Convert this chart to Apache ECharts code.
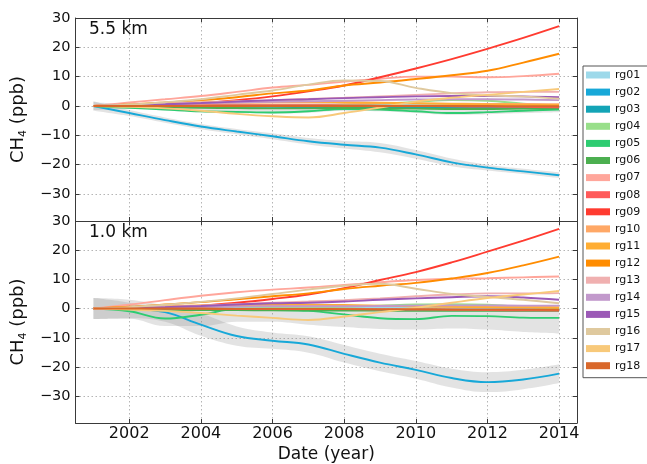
<!DOCTYPE html>
<html>
<head>
<meta charset="utf-8">
<script src="https://cdn.jsdelivr.net/npm/echarts@6/dist/echarts.min.js"></script>
<style>
  html, body { margin: 0; padding: 0; background: #fff; }
  #chart { width: 647px; height: 464px; }
</style>
</head>
<body>
<div id="chart"></div>
<script>
// Time axis (annual values), labels and colours
const years = [2001, 2002, 2003, 2004, 2005, 2006, 2007, 2008, 2009, 2010, 2011, 2012, 2013, 2014];
const xTicks = [2002, 2004, 2006, 2008, 2010, 2012, 2014];
const yTicks = [-30, -20, -10, 0, 10, 20, 30];
const regions = ['rg01', 'rg02', 'rg03', 'rg04', 'rg05', 'rg06', 'rg07', 'rg08', 'rg09',
                 'rg10', 'rg11', 'rg12', 'rg13', 'rg14', 'rg15', 'rg16', 'rg17', 'rg18'];
const regionColors = ['#9dd9ea', '#17a8d8', '#14a4b6', '#98df8a', '#2ecc71', '#4caf50',
                      '#ffa69b', '#ff5a5a', '#ff3b30', '#ffa866', '#ffad33', '#ff8c00',
                      '#f0b0b0', '#c299cc', '#9b59b6', '#dfc99e', '#f8c97a', '#d9682b'];

// CH4 anomaly (ppb) at 5.5 km
const hi_rg01 = [0, 0, 0.1, 0.2, 0.3, 0.3, 0.4, 0.5, 0.5, 0.5, 0.4, 0.4, 0.3, 0.3];
const hi_rg02 = [0, -2.4, -4.8, -7.0, -8.7, -10.3, -12.0, -13.2, -14.2, -16.5, -19.2, -21.0, -22.3, -23.6];
const hi_rg03 = [0, -0.1, -0.2, -0.3, -0.3, -0.3, -0.4, -0.5, -0.6, -0.6, -0.6, -0.5, -0.5, -0.4];
const hi_rg04 = [0, 0, 0.1, 0.2, 0.3, 0.3, 0.3, 0.4, 0.8, 1.4, 2.0, 1.8, 0.8, 0.2];
const hi_rg05 = [0, -0.6, -1.2, -1.8, -2.0, -2.2, -1.8, -1.0, -1.2, -1.8, -2.4, -2.1, -1.6, -1.2];
const hi_rg06 = [0, -0.2, -0.4, -0.6, -0.7, -0.8, -0.8, -0.7, -0.8, -0.9, -1.0, -1.0, -0.9, -0.8];
const hi_rg07 = [0, 1.2, 2.3, 3.4, 4.8, 6.3, 7.2, 8.3, 9.3, 10.0, 10.0, 9.8, 10.2, 11.0];
const hi_rg08 = [0, 0.1, 0.2, 0.3, 0.3, 0.3, 0.3, 0.2, 0.1, 0, -0.1, -0.2, -0.3, -0.4];
const hi_rg09 = [0, 0.2, 0.5, 1.0, 2.0, 3.3, 5.0, 7.0, 9.8, 12.8, 16.0, 19.5, 23.2, 27.2];
const hi_rg10 = [0, 0.3, 0.6, 0.9, 1.1, 1.2, 1.2, 1.1, 1.0, 0.9, 0.8, 0.7, 0.7, 0.6];
const hi_rg11 = [0, 0.4, 0.8, 1.2, 1.5, 1.6, 1.5, 1.3, 1.1, 0.9, 0.7, 0.5, 0.4, 0.3];
const hi_rg12 = [0, 0.5, 1.2, 2.0, 3.0, 4.3, 5.3, 7.0, 8.0, 9.2, 10.5, 12.0, 14.8, 17.8];
const hi_rg13 = [0, 0.4, 0.8, 1.2, 1.6, 2.0, 2.4, 2.8, 3.3, 3.8, 4.3, 4.7, 4.8, 4.8];
const hi_rg14 = [0, 0.3, 0.6, 0.9, 1.2, 1.4, 1.6, 1.8, 2.0, 2.2, 2.3, 2.3, 2.2, 2.0];
const hi_rg15 = [0, 0.3, 0.6, 1.0, 1.5, 2.0, 2.3, 2.7, 3.0, 3.3, 3.4, 3.4, 3.3, 3.0];
const hi_rg16 = [0, 0.5, 1.3, 2.3, 3.8, 5.3, 7.3, 8.7, 8.5, 6.2, 4.4, 3.6, 3.2, 2.5];
const hi_rg17 = [0, -0.3, -0.8, -1.6, -2.7, -3.5, -3.9, -2.4, -0.5, 1.5, 2.8, 3.8, 4.8, 5.8];
const hi_rg18 = [0, 0, 0, 0, 0, 0, 0, 0, 0, 0, 0, 0, -0.1, -0.1];

// Uncertainty envelopes at 5.5 km (lower / upper bounds)
const hi_bandA_lo = [-1.6, -3.4, -5.7, -7.9, -9.6, -11.3, -13.1, -14.5, -15.8, -18.0, -20.5, -22.0, -23.2, -24.6];
const hi_bandA_hi = [1.6, -1.4, -3.9, -6.1, -7.8, -9.3, -10.9, -11.9, -12.6, -15.0, -17.9, -20.0, -21.4, -22.6];
const hi_bandB_lo = [-1.4, -1.0, -1.5, -2.2, -2.5, -2.6, -2.3, -1.6, -1.8, -2.4, -3.0, -2.8, -2.4, -2.1];
const hi_bandB_hi = [1.4, 0.6, 0.5, 0.5, 0.5, 0.5, 0.5, 0.5, 0.5, 0.5, 0.5, 0.5, 0.5, 0.5];

// CH4 anomaly (ppb) at 1.0 km
const lo_rg01 = [0, 0, 0.1, 0.2, 0.2, 0.3, 0.3, 0.3, 0.3, 0.3, 0.2, 0.2, 0.2, 0.2];
const lo_rg02 = [0, -0.1, -1.2, -5.5, -9.4, -11.0, -12.3, -15.5, -18.5, -21.0, -23.8, -25.2, -24.3, -22.3];
const lo_rg03 = [0, -0.1, -0.2, -0.3, -0.4, -0.4, -0.4, -0.4, -0.5, -0.5, -0.5, -0.5, -0.6, -0.6];
const lo_rg04 = [0, 0, -0.2, -0.3, 0, 0.2, 0.4, 0.6, 1.0, 1.4, 1.5, 1.3, 0.6, 0.1];
const lo_rg05 = [0, -0.9, -3.4, -2.1, -0.2, -0.5, -0.8, -2.0, -3.3, -3.6, -2.5, -2.6, -3.1, -3.2];
const lo_rg06 = [0, -0.2, -0.4, -0.5, -0.5, -0.6, -0.6, -0.7, -0.7, -0.8, -0.8, -0.8, -0.8, -0.8];
const lo_rg07 = [0, 1.3, 2.9, 4.4, 5.6, 6.5, 7.2, 8.1, 9.0, 9.8, 10.2, 10.4, 10.7, 11.0];
const lo_rg08 = [0, 0, 0, 0, -0.1, -0.1, -0.2, -0.2, -0.3, -0.3, -0.4, -0.5, -0.6, -0.7];
const lo_rg09 = [0, 0.2, 0.5, 1.0, 2.0, 3.3, 4.8, 7.0, 9.8, 12.5, 15.8, 19.5, 23.3, 27.3];
const lo_rg10 = [0, 0.3, 0.6, 0.8, 1.0, 1.1, 1.1, 1.0, 0.9, 0.8, 0.7, 0.6, 0.6, 0.5];
const lo_rg11 = [0, 0.4, 0.8, 1.1, 1.3, 1.4, 1.3, 1.2, 1.0, 0.8, 0.6, 0.5, 0.4, 0.3];
const lo_rg12 = [0, 0.6, 1.4, 2.2, 3.2, 4.2, 5.2, 6.7, 7.8, 8.8, 10.3, 12.2, 14.8, 17.8];
const lo_rg13 = [0, 0.3, 0.7, 1.0, 1.5, 2.0, 2.4, 2.9, 3.5, 4.2, 4.8, 5.2, 5.2, 5.3];
const lo_rg14 = [0, 0.2, 0.4, 0.6, 0.7, 0.8, 0.8, 0.8, 0.9, 1.0, 1.1, 1.1, 1.0, 1.0];
const lo_rg15 = [0, 0.2, 0.5, 0.9, 1.4, 1.8, 2.0, 2.4, 3.0, 3.5, 3.9, 4.2, 3.8, 3.0];
const lo_rg16 = [0, 0.5, 1.3, 2.3, 3.5, 5.0, 6.5, 7.8, 8.5, 6.8, 5.0, 4.0, 3.0, 1.8];
const lo_rg17 = [0, -0.3, -0.8, -1.5, -2.4, -3.2, -3.9, -2.7, -1.2, 0.3, 2.0, 3.6, 4.8, 6.0];
const lo_rg18 = [0, 0, 0, 0, -0.1, -0.1, -0.1, -0.2, -0.2, -0.2, -0.3, -0.3, -0.3, -0.4];

// Uncertainty envelopes at 1.0 km (lower / upper bounds)
const lo_bandA_lo = [-3.6, -3.3, -4.5, -9.3, -12.7, -13.8, -15.1, -18.5, -21.5, -24.0, -27.0, -28.6, -27.6, -25.5];
const lo_bandA_hi = [3.6, 3.0, 1.0, -1.7, -6.1, -8.2, -9.5, -12.5, -15.5, -18.0, -20.6, -21.8, -21.0, -19.1];
const lo_bandB_lo = [-3.6, -3.5, -6.0, -6.0, -4.5, -4.5, -5.5, -6.3, -7.0, -7.2, -6.8, -7.2, -8.0, -8.5];
const lo_bandB_hi = [3.6, 2.0, -0.8, -0.5, 0.8, 0.8, 0.5, -0.3, -0.8, -0.8, -0.5, -0.3, -0.2, -0.2];

const hiLines = [hi_rg01, hi_rg02, hi_rg03, hi_rg04, hi_rg05, hi_rg06, hi_rg07, hi_rg08, hi_rg09,
                 hi_rg10, hi_rg11, hi_rg12, hi_rg13, hi_rg14, hi_rg15, hi_rg16, hi_rg17, hi_rg18];
const loLines = [lo_rg01, lo_rg02, lo_rg03, lo_rg04, lo_rg05, lo_rg06, lo_rg07, lo_rg08, lo_rg09,
                 lo_rg10, lo_rg11, lo_rg12, lo_rg13, lo_rg14, lo_rg15, lo_rg16, lo_rg17, lo_rg18];
const hiBands = [[hi_bandA_lo, hi_bandA_hi], [hi_bandB_lo, hi_bandB_hi]];
const loBands = [[lo_bandA_lo, lo_bandA_hi], [lo_bandB_lo, lo_bandB_hi]];

const FONT = 'DejaVu Sans';
const AXIS_COLOR = '#3a3a3a';
const SMOOTH = 0.4;

const fmtMinus = v => String(v).replace('-', '\u2212');

function pairs(vals) {
  return years.map((y, i) => [y, vals[i]]);
}

function xAxisSet(gridIndex, showLabels) {
  const base = {
    type: 'value', gridIndex: gridIndex, min: 2000.5, max: 2014.5,
    axisLine: { show: true, onZero: false, lineStyle: { color: AXIS_COLOR, width: 1 } },
    axisTick: { show: true, inside: true, length: 4, customValues: xTicks, lineStyle: { color: AXIS_COLOR } }
  };
  return [
    Object.assign({}, base, {
      position: 'bottom',
      splitLine: { show: true, lineStyle: { color: '#b5b5b5', type: [1.5, 2.5], width: 1 } },
      axisLabel: showLabels
        ? { show: true, customValues: xTicks, margin: 3, color: '#111', fontFamily: FONT, fontSize: 16,
            formatter: v => String(v) }
        : { show: false },
      name: showLabels ? 'Date (year)' : '',
      nameLocation: 'middle', nameGap: 23,
      nameTextStyle: { color: '#111', fontFamily: FONT, fontSize: 17 }
    }),
    Object.assign({}, base, {
      position: 'top', splitLine: { show: false }, axisLabel: { show: false }
    }),
    // hidden band axis: one slot per year, slot centres line up with the value axis
    { type: 'category', gridIndex: gridIndex, data: years.map(String), boundaryGap: true, show: false }
  ];
}

function yAxisPair(gridIndex) {
  const base = {
    type: 'value', gridIndex: gridIndex, min: -39.2, max: 30,
    axisLine: { show: true, onZero: false, lineStyle: { color: AXIS_COLOR, width: 1 } },
    axisTick: { show: true, inside: true, length: 4, customValues: yTicks, lineStyle: { color: AXIS_COLOR } }
  };
  return [
    Object.assign({}, base, {
      position: 'left',
      splitLine: { show: true, lineStyle: { color: '#b5b5b5', type: [1.5, 2.5], width: 1 } },
      axisLabel: {
        show: true, customValues: yTicks, margin: 5, color: '#111', fontFamily: FONT, fontSize: 14.5,
        formatter: v => fmtMinus(v)
      },
      name: '{m|CH}{s|4}{m| (ppb)}',
      nameLocation: 'middle', nameGap: 43,
      nameTextStyle: {
        color: '#111', fontFamily: FONT,
        rich: {
          m: { fontFamily: FONT, fontSize: 18, color: '#111', lineHeight: 22 },
          s: { fontFamily: FONT, fontSize: 11, color: '#111', lineHeight: 22, padding: [10, 0, 0, 0] }
        }
      }
    }),
    Object.assign({}, base, {
      position: 'right', splitLine: { show: false }, axisLabel: { show: false }
    })
  ];
}

// x axes: 0 bottom, 1 top, 2 band (grid 0); 3 bottom, 4 top, 5 band (grid 1)
const xAxes = [].concat(xAxisSet(0, false), xAxisSet(1, true));
// y axes: 0 left, 1 right (grid 0); 2 left, 3 right (grid 1)
const yAxes = [].concat(yAxisPair(0), yAxisPair(1));

const series = [];

function addBands(bands, xIdx, yIdx, tag) {
  bands.forEach((b, k) => {
    const stackId = tag + '_band' + k;
    series.push({
      type: 'line', name: stackId + '_base', xAxisIndex: xIdx, yAxisIndex: yIdx,
      data: b[0].slice(), stack: stackId, stackStrategy: 'all',
      smooth: SMOOTH, symbol: 'none', lineStyle: { opacity: 0 }, silent: true, z: 1
    });
    series.push({
      type: 'line', name: stackId + '_width', xAxisIndex: xIdx, yAxisIndex: yIdx,
      data: b[1].map((v, i) => +(v - b[0][i]).toFixed(3)), stack: stackId, stackStrategy: 'all',
      smooth: SMOOTH, symbol: 'none', lineStyle: { opacity: 0 },
      areaStyle: { color: 'rgba(140,140,140,0.34)' }, silent: true, z: 1
    });
  });
}

function addLines(lines, xIdx, yIdx) {
  lines.forEach((vals, i) => {
    series.push({
      type: 'line', name: regions[i], xAxisIndex: xIdx, yAxisIndex: yIdx,
      data: pairs(vals), smooth: SMOOTH, symbol: 'none',
      color: regionColors[i],
      lineStyle: { color: regionColors[i], width: 1.9 }, z: 2
    });
  });
}

addBands(hiBands, 2, 0, 'hi');
addBands(loBands, 5, 2, 'lo');
addLines(hiLines, 0, 0);
addLines(loLines, 3, 2);

const chart = echarts.init(document.getElementById('chart'), null, { renderer: 'canvas' });
chart.setOption({
  animation: false,
  backgroundColor: '#ffffff',
  textStyle: { fontFamily: FONT },
  grid: [
    { left: 71, top: 18, width: 506, height: 203 },
    { left: 71, top: 221, width: 506, height: 203 }
  ],
  xAxis: xAxes,
  yAxis: yAxes,
  legend: {
    data: regions.map(n => ({ name: n, icon: 'rect' })),
    orient: 'vertical', left: 583, top: 66,
    itemWidth: 24, itemHeight: 7, itemGap: 5.1,
    padding: [3, 30, 6, 3],
    borderColor: '#555', borderWidth: 1, backgroundColor: '#fff',
    selectedMode: false,
    textStyle: { fontFamily: FONT, fontSize: 11, color: '#111', lineHeight: 12 }
  },
  graphic: [
    { type: 'text', left: 89, top: 21, style: { text: '5.5 km', font: '17px "DejaVu Sans"', fill: '#111' } },
    { type: 'text', left: 89, top: 224, style: { text: '1.0 km', font: '17px "DejaVu Sans"', fill: '#111' } }
  ],
  series: series
});
</script>
</body>
</html>
